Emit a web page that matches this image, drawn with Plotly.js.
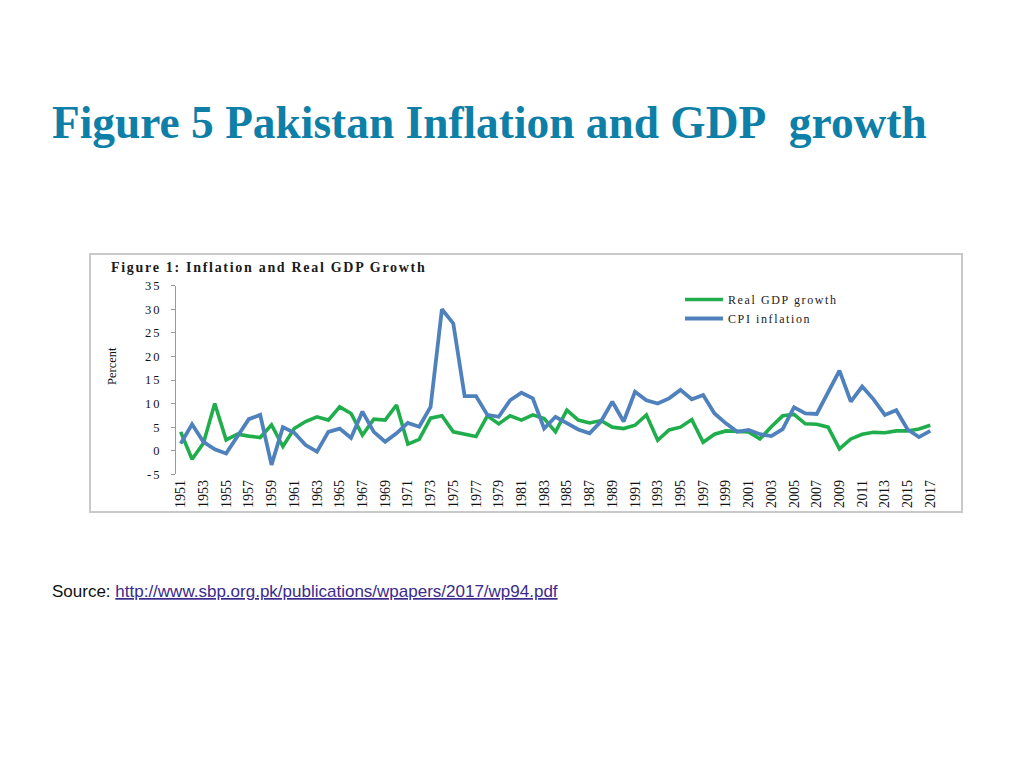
<!DOCTYPE html>
<html>
<head>
<meta charset="utf-8">
<script src="https://cdn.plot.ly/plotly-3.0.1.min.js"></script>
<style>
  html, body { margin: 0; padding: 0; background: #ffffff; }
  #chart { width: 1024px; height: 768px; }
</style>
</head>
<body>
<div id="chart"></div>
<script>
// ---- data ----
const years = [];
for (let y = 1951; y <= 2017; y++) years.push(y);

const gdpGrowth = [
  4.0, -1.8, 1.6, 10.0, 2.3, 3.5, 3.1, 2.8, 5.5, 0.9,
  4.7, 6.2, 7.2, 6.5, 9.3, 7.9, 3.3, 6.7, 6.5, 9.7,
  1.4, 2.4, 6.9, 7.4, 4.0, 3.5, 3.0, 7.4, 5.7, 7.4,
  6.5, 7.6, 6.8, 4.0, 8.6, 6.5, 5.9, 6.4, 5.0, 4.7,
  5.4, 7.6, 2.2, 4.4, 5.0, 6.6, 1.8, 3.5, 4.2, 4.1,
  4.0, 2.5, 5.1, 7.4, 7.7, 5.7, 5.6, 5.0, 0.4, 2.5,
  3.5, 3.9, 3.8, 4.2, 4.2, 4.6, 5.4
];

const cpiInflation = [
  1.5, 5.6, 1.9, 0.3, -0.6, 3.0, 6.7, 7.6, -3.0, 5.0,
  3.8, 1.2, -0.2, 4.0, 4.7, 2.7, 8.3, 4.0, 1.9, 3.7,
  5.9, 5.1, 9.3, 30.0, 27.0, 11.6, 11.6, 7.6, 7.2, 10.7,
  12.3, 11.1, 4.7, 7.2, 5.8, 4.5, 3.7, 6.2, 10.4, 6.2,
  12.5, 10.7, 10.0, 11.1, 12.9, 10.9, 11.8, 7.9, 5.8, 4.0,
  4.4, 3.5, 3.1, 4.6, 9.2, 7.9, 7.8, 12.2, 17.0, 10.4,
  13.6, 10.9, 7.6, 8.6, 4.5, 2.9, 4.2
];

const seriesNames = ['Real GDP growth', 'CPI inflation'];
const tickYears = years.filter(y => (y - 1951) % 2 === 0);
const yTicks = [-5, 0, 5, 10, 15, 20, 25, 30, 35];

// ---- geometry helpers (pixel -> paper) ----
const W = 1024, H = 768;
const px = x => x / W;
const py = y => 1 - y / H;

const yTop = 285.7, yBot = 474.3;
const yMin = -5, yMax = 35;
const zeroFrac = py(yBot) + (0 - yMin) / (yMax - yMin) * (py(yTop) - py(yBot));

const serif = 'Liberation Serif, Times New Roman, serif';
const spaced = (t, s) => '<span style="letter-spacing:' + s + 'px">' + t + '</span>';

const traces = [
  {
    x: years, y: gdpGrowth, type: 'scatter', mode: 'lines',
    name: spaced(seriesNames[0], 1.6),
    line: { color: '#1fae4b', width: 3.6 },
    xaxis: 'x', yaxis: 'y'
  },
  {
    x: years, y: cpiInflation, type: 'scatter', mode: 'lines',
    name: spaced(seriesNames[1], 1.6),
    line: { color: '#4f81bd', width: 3.8 },
    xaxis: 'x', yaxis: 'y'
  }
];

const layout = {
  width: W, height: H,
  margin: { l: 0, r: 0, t: 0, b: 0, pad: 0 },
  paper_bgcolor: '#ffffff',
  plot_bgcolor: 'rgba(0,0,0,0)',
  showlegend: true,
  legend: {
    x: px(680), y: py(285), xanchor: 'left', yanchor: 'top',
    bgcolor: 'rgba(0,0,0,0)',
    font: { family: serif, size: 12, color: '#222222' },
    tracegroupgap: 0, itemwidth: 38
  },
  xaxis: {
    domain: [px(175), px(936)],
    range: [1950.5, 2017.5],
    tickmode: 'array', tickvals: tickYears, ticktext: tickYears.map(String),
    tickangle: -90,
    ticks: '', showgrid: false, zeroline: false, showline: false,
    tickfont: { family: serif, size: 14, color: '#111111' },
    ticklabelstandoff: 2,
    anchor: 'y', fixedrange: true
  },
  xaxis2: {
    domain: [px(175), px(936)],
    range: [1950.5, 2017.5],
    overlaying: 'x', anchor: 'free', position: zeroFrac,
    tick0: 1950.5, dtick: 1, ticks: 'outside', ticklen: 3, tickcolor: '#9a9a9a',
    showticklabels: false, showgrid: false, zeroline: false,
    showline: true, linecolor: '#9a9a9a', linewidth: 1
  },
  yaxis: {
    domain: [py(yBot), py(yTop)],
    range: [yMin, yMax],
    tickmode: 'array', tickvals: yTicks,
    ticktext: yTicks.map(v => spaced(String(v), 2)),
    ticks: 'outside', ticklen: 4, tickcolor: '#9a9a9a',
    showline: true, linecolor: '#9a9a9a', linewidth: 1,
    showgrid: false, zeroline: false,
    tickfont: { family: serif, size: 12.5, color: '#111111' },
    ticklabelstandoff: 7,
    anchor: 'free', position: px(175), fixedrange: true
  },
  shapes: [
    {
      type: 'rect', xref: 'paper', yref: 'paper',
      x0: px(90), x1: px(962), y0: py(512), y1: py(254),
      line: { color: '#c9c9c9', width: 2 }, fillcolor: 'rgba(0,0,0,0)'
    }
  ],
  annotations: [
    {
      text: '<b>Figure 5 Pakistan Inflation and GDP\u00a0 growth</b>',
      xref: 'paper', yref: 'paper', x: px(50), y: py(123),
      xanchor: 'left', yanchor: 'middle', showarrow: false,
      font: { family: serif, size: 45.4, color: '#0e7fa6' }
    },
    {
      text: '<b>' + spaced('Figure 1: Inflation and Real GDP Growth', 1.7) + '</b>',
      xref: 'paper', yref: 'paper', x: px(109), y: py(267),
      xanchor: 'left', yanchor: 'middle', showarrow: false,
      font: { family: serif, size: 14, color: '#1a1a1a' }
    },
    {
      text: 'Percent',
      xref: 'paper', yref: 'paper', x: px(112), y: py(366),
      xanchor: 'center', yanchor: 'middle', showarrow: false, textangle: -90,
      font: { family: serif, size: 12.5, color: '#111111' }
    },
    {
      text: 'Source: <a href="http://www.sbp.org.pk/publications/wpapers/2017/wp94.pdf" style="color:#3b2a8c;text-decoration:underline">http://www.sbp.org.pk/publications/wpapers/2017/wp94.pdf</a>',
      xref: 'paper', yref: 'paper', x: px(50), y: py(591),
      xanchor: 'left', yanchor: 'middle', showarrow: false,
      font: { family: 'Liberation Sans, Arial, sans-serif', size: 17, color: '#111111' }
    }
  ]
};

Plotly.newPlot('chart', traces, layout, { displayModeBar: false, staticPlot: true });
</script>
</body>
</html>
